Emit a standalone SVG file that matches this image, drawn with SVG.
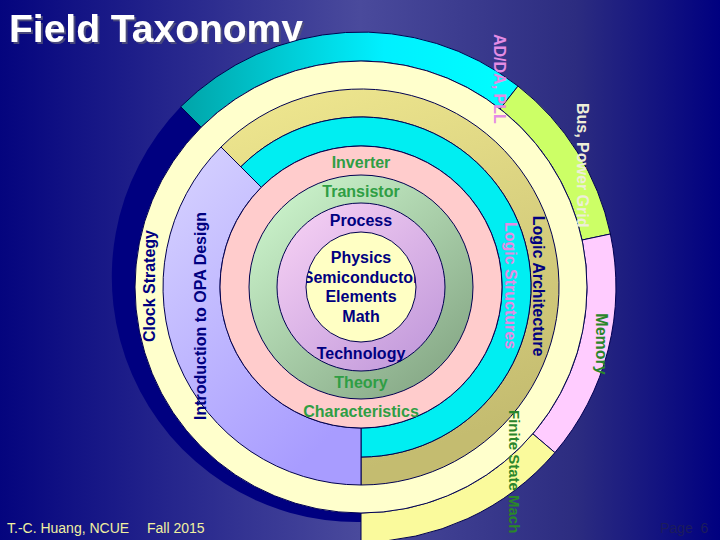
<svg xmlns="http://www.w3.org/2000/svg" width="720" height="540" viewBox="0 0 720 540">
  <style>
    .seg { stroke: #000050; stroke-width: 1; }
    .lbl { font-family: "Liberation Sans", Arial, sans-serif; font-weight: bold; font-size: 16px; }
    .ctr { text-anchor: middle; }
    .navy { fill: #000080; }
    .green { fill: #2f9e44; }
    .dgreen { fill: #2a862a; }
    .orchid { fill: #e48ce4; }
    .foot { font-family: "Liberation Sans", Arial, sans-serif; font-size: 14px; }
  </style>
  <defs>
    <linearGradient id="bg" x1="0" y1="0" x2="720" y2="0" gradientUnits="userSpaceOnUse">
      <stop offset="0" stop-color="#04047e"/>
      <stop offset="0.5" stop-color="#4a4a9c"/>
      <stop offset="0.8" stop-color="#2c2c80"/>
      <stop offset="1" stop-color="#000080"/>
    </linearGradient>
    <linearGradient id="cyanOut" x1="180" y1="0" x2="520" y2="0" gradientUnits="userSpaceOnUse">
      <stop offset="0" stop-color="#00a4a8"/>
      <stop offset="0.6" stop-color="#00f0ff"/>
      <stop offset="1" stop-color="#00ffff"/>
    </linearGradient>
    <linearGradient id="khaki" x1="0" y1="0" x2="0.3" y2="1">
      <stop offset="0" stop-color="#f0e890"/>
      <stop offset="1" stop-color="#c4bc70"/>
    </linearGradient>
    <linearGradient id="lav" x1="0" y1="0" x2="0.6" y2="1">
      <stop offset="0" stop-color="#d8d4ff"/>
      <stop offset="1" stop-color="#a89cff"/>
    </linearGradient>
    <linearGradient id="grn" x1="0.15" y1="0.1" x2="0.85" y2="0.9">
      <stop offset="0" stop-color="#c8f0c8"/>
      <stop offset="1" stop-color="#88aa88"/>
    </linearGradient>
    <linearGradient id="purp" x1="0.15" y1="0.1" x2="0.85" y2="0.9">
      <stop offset="0" stop-color="#f2ccf2"/>
      <stop offset="1" stop-color="#c49cdc"/>
    </linearGradient>
    <clipPath id="coreClip">
      <circle cx="361" cy="287" r="55"/>
    </clipPath>
    <filter id="shadow" x="-5%" y="-20%" width="115%" height="150%">
      <feDropShadow dx="2" dy="2" stdDeviation="0.6" flood-color="#50507a" flood-opacity="0.9"/>
    </filter>
  </defs>

  <rect x="0" y="0" width="720" height="540" fill="url(#bg)"/>

  <text x="9" y="42" font-family="'Liberation Sans', Arial, sans-serif" font-weight="bold" font-size="39" fill="#ffffff" filter="url(#shadow)">Field Taxonomy</text>

  <!-- outer ring -->
  <g id="outer-ring">
    <path id="navy-band" d="M180.7 106.7 A245 245 0 0 0 361 522 L361 513 A226 226 0 0 1 201.2 127.2 Z" fill="#000080"/>
    <path id="adda" class="seg" d="M180.7 106.7 A255 255 0 0 1 518 86.1 L500.1 108.9 A226 226 0 0 0 201.2 127.2 Z" fill="url(#cyanOut)"/>
    <path id="bus" class="seg" d="M518 86.1 A255 255 0 0 1 610.4 234 L582.1 240 A226 226 0 0 0 500.1 108.9 Z" fill="#ccff66"/>
    <path id="memory" class="seg" d="M610.4 234 A255 255 0 0 1 554.9 452.6 L532.8 433.8 A226 226 0 0 0 582.1 240 Z" fill="#ffccff"/>
    <path id="fsm" class="seg" d="M554.9 452.6 A255 255 0 0 1 361 542 L361 513 A226 226 0 0 0 532.8 433.8 Z" fill="#fafa9c"/>
  </g>

  <g id="clock-ring">
    <circle class="seg" cx="361" cy="287" r="226" fill="#ffffcc"/>
  </g>

  <g id="logic-rings">
    <path id="logic-arch" class="seg" d="M221 147 A198 198 0 1 1 361 485 L361 457 A170 170 0 1 0 240.8 166.8 Z" fill="url(#khaki)"/>
    <path id="logic-struct" class="seg" d="M240.8 166.8 A170 170 0 1 1 361 457 L361 428 A141 141 0 1 0 261.3 187.3 Z" fill="#00eef2"/>
    <path id="opa" class="seg" d="M361 485 A198 198 0 0 1 221 147 L261.3 187.3 A141 141 0 0 0 361 428 Z" fill="url(#lav)"/>
  </g>

  <g id="inverter-ring">
    <circle class="seg" cx="361" cy="287" r="141" fill="#ffcccc"/>
  </g>
  <g id="transistor-ring">
    <circle class="seg" cx="361" cy="287" r="112" fill="url(#grn)"/>
  </g>
  <g id="process-ring">
    <circle class="seg" cx="361" cy="287" r="84" fill="url(#purp)"/>
  </g>
  <g id="core">
    <circle class="seg" cx="361" cy="287" r="55" fill="#ffffc4"/>
    <g clip-path="url(#coreClip)" class="lbl ctr navy">
      <text x="361" y="263">Physics</text>
      <text x="361" y="282.5">Semiconductor</text>
      <text x="361" y="302">Elements</text>
      <text x="361" y="321.5">Math</text>
    </g>
  </g>

  <g id="labels">
    <text class="lbl ctr green" x="361" y="168">Inverter</text>
    <text class="lbl ctr green" x="361" y="197">Transistor</text>
    <text class="lbl ctr navy" x="361" y="226">Process</text>
    <text class="lbl ctr navy" x="361" y="359">Technology</text>
    <text class="lbl ctr green" x="361" y="388">Theory</text>
    <text class="lbl ctr green" x="361" y="417">Characteristics</text>

    <text class="lbl ctr navy" transform="translate(149 286) rotate(-90)" x="0" y="6">Clock Strategy</text>
    <text class="lbl ctr navy" transform="translate(200 316) rotate(-90)" x="0" y="6">Introduction to OPA Design</text>

    <text class="lbl ctr orchid" transform="translate(511 285.5) rotate(90)" x="0" y="6">Logic Structures</text>
    <text class="lbl ctr navy" transform="translate(538.5 286) rotate(90)" x="0" y="6">Logic Architecture</text>
    <text class="lbl ctr dgreen" transform="translate(601.5 344) rotate(90)" x="0" y="6">Memory</text>
    <text class="lbl dgreen" style="font-size:15px" transform="translate(514.5 410) rotate(90)" x="0" y="6">Finite State Mach</text>
    <text class="lbl orchid" transform="translate(500 34) rotate(90)" x="0" y="6">AD/DA, PLL</text>
    <text class="lbl" fill="#eeeed8" transform="translate(583 103) rotate(90)" x="0" y="6">Bus, Power Grid</text>
  </g>

  <g id="footer">
    <text class="foot" x="7" y="533" fill="#f0f0a0">T.-C. Huang, NCUE</text>
    <text class="foot" x="147" y="533" fill="#f0f0a0">Fall 2015</text>
    <text class="foot" x="660" y="533" fill="#1c1c5c" word-spacing="4">Page 6</text>
  </g>
</svg>
